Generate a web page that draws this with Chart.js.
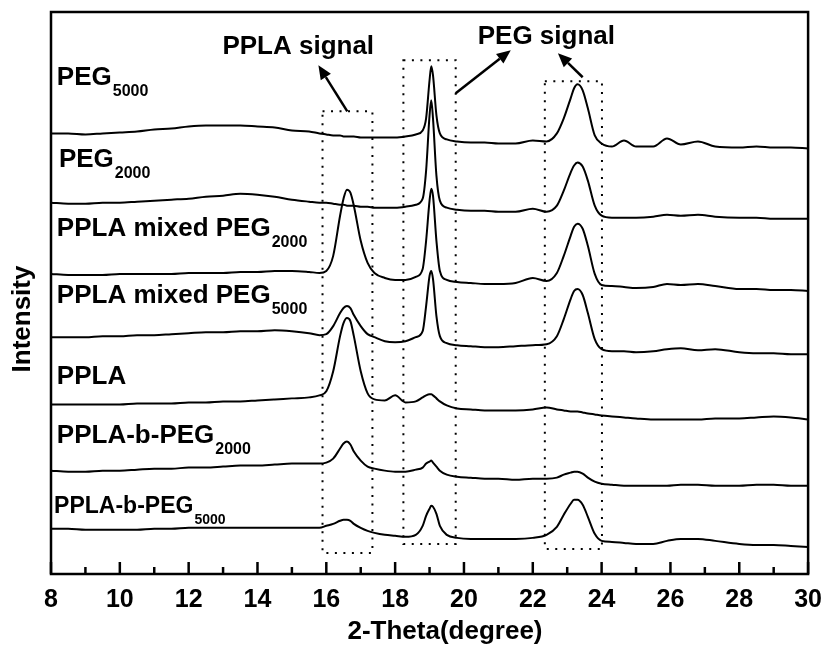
<!DOCTYPE html>
<html lang="en">
<head>
<meta charset="UTF-8">
<title>XRD patterns</title>
<script src="https://cdn.jsdelivr.net/npm/chart.js"></script>
<style>
  body { margin: 0; background: #fff; }
  .chart-box { position: relative; width: 825px; height: 648px; }
</style>
</head>
<body>
<div class="chart-box">
  <canvas id="xrdChart"></canvas>
</div>
<script>
// 2-theta positions (degree) shared by all traces
const twoTheta = [8, 8.5, 9, 9.5, 10, 10.5, 11, 11.5, 12, 12.5, 13, 13.5, 14, 14.5, 15, 15.5, 15.8, 16.0, 16.2, 16.4, 16.5, 16.6, 16.7, 16.8, 17.0, 17.2, 17.4, 17.7, 18.0, 18.3, 18.6, 18.8, 18.9, 19.0, 19.05, 19.1, 19.2, 19.3, 19.5, 19.8, 20.2, 20.6, 21.0, 21.5, 22.0, 22.4, 22.7, 22.9, 23.1, 23.2, 23.3, 23.45, 23.6, 23.8, 24.0, 24.3, 24.65, 25.0, 25.5, 25.9, 26.3, 26.8, 27.3, 28.0, 28.5, 29.0, 29.5, 30];

// stacked intensities (a.u., offset per trace)
const peg5000 = [439,439,438,439,440,441,443,444,446,447,447,447,446,445,442,441,439,438,437,437,436,436,436,436,435,435,435,435,435,436,438,442,454,492,506,497,457,439,433,431,430,430,429,429,432,431,439,454,474,484,488,482,464,437,429,426,432,426,426,434,428,431,426,425,426,425,425,424];
const peg2000 = [370,369,369,370,370,371,372,373,374,376,377,379,378,376,373,371,370,370,369,368,368,367,367,367,366,366,365,365,365,366,368,374,402,457,472,454,397,372,365,363,362,362,361,361,364,361,367,382,400,407,410,406,392,367,357,355,355,355,356,358,357,358,356,355,355,354,354,354];
const mixed2000 = [299,298,298,298,299,299,299,299,300,300,300,301,301,302,302,301,300,302,317,357,374,383,380,367,332,310,300,295,293,293,296,304,332,372,384,377,332,302,293,291,290,289,289,290,295,292,300,317,337,346,349,344,327,299,288,287,286,285,286,289,288,289,287,284,284,283,283,282];
const mixed5000 = [236,236,236,237,237,238,238,239,240,241,241,242,242,243,242,240,238,239,247,260,265,267,265,258,247,239,236,232,231,232,236,242,267,297,302,294,257,237,230,228,227,226,226,227,228,229,237,254,274,282,284,278,260,234,224,222,222,221,222,224,225,223,224,221,220,220,219,219];
const ppla = [169,169,169,169,169,170,170,170,171,171,172,172,173,174,175,176,178,182,202,237,250,255,252,237,202,180,174,173,178,171,172,176,178,179,179,178,175,172,168,165,164,163,163,163,164,166,164,163,162,162,162,161,160,159,158,157,156,155,154,154,154,154,155,155,156,157,156,154];
const block2000 = [103,102,102,103,103,104,105,105,106,106,107,108,108,109,110,110,110,111,115,125,130,132,129,122,113,107,105,103,102,102,104,106,110,112,113,111,107,103,99,97,96,95,95,94,95,95,96,99,101,102,102,100,96,92,90,89,88,88,88,88,89,89,88,88,89,89,88,88];
const block5000 = [45,45,44,44,44,44,45,45,46,46,46,46,46,46,46,46,46,48,50,53,54,54,53,50,46,43,41,39,38,37,39,48,58,65,68,67,60,48,39,36,35,35,35,35,36,39,47,59,70,74,74,69,57,40,33,32,31,30,30,33,35,35,33,30,29,29,28,27];

const seriesNames = ['PEG', 'PEG', 'PPLA mixed PEG', 'PPLA mixed PEG', 'PPLA', 'PPLA-b-PEG', 'PPLA-b-PEG'];
const seriesSubs = ['5000', '2000', '2000', '5000', '', '2000', '5000'];
const seriesData = [peg5000, peg2000, mixed2000, mixed5000, ppla, block2000, block5000];

// where each trace label sits (degree, intensity)
const labelPos = [[8.17, 487], [8.23, 406], [8.17, 337], [8.17, 270], [8.17, 189], [8.17, 131], [8.09, 61]];

// dotted boxes: [x0, x1, y0, y1]
const boxes = [[15.89, 17.34, 21, 461], [18.24, 19.76, 30, 512], [22.35, 24.01, 25, 491]];
// arrows: [tailX, tailY, headX, headY]
const arrows = [[16.61, 461, 15.77, 507], [19.76, 479, 21.36, 522], [23.45, 495, 22.73, 519]];

const FONT = 'Arial, "Liberation Sans", sans-serif';

const decor = {
    id: 'decor',
    afterDraw(chart) {
        const ctx = chart.ctx;
        const a = chart.chartArea;
        const xs = chart.scales.x, ys = chart.scales.y;
        const px = v => xs.getPixelForValue(v);
        const py = v => ys.getPixelForValue(v);
        ctx.save();
        ctx.fillStyle = '#000';
        ctx.strokeStyle = '#000';

        // frame
        ctx.lineWidth = 2.5;
        ctx.strokeRect(a.left, a.top, a.right - a.left, a.bottom - a.top);

        // inward ticks on the bottom axis
        ctx.lineWidth = 2.5;
        xs.ticks.forEach(t => {
            const x = px(t.value);
            const len = t.value % 2 === 0 ? 12 : 7;
            ctx.beginPath();
            ctx.moveTo(x, a.bottom);
            ctx.lineTo(x, a.bottom - len);
            ctx.stroke();
        });

        // dotted boxes
        ctx.lineWidth = 2;
        ctx.setLineDash([2, 6.5]);
        boxes.forEach(b => {
            ctx.strokeRect(px(b[0]), py(b[3]), px(b[1]) - px(b[0]), py(b[2]) - py(b[3]));
        });
        ctx.setLineDash([]);

        // arrows
        ctx.lineWidth = 2.5;
        arrows.forEach(r => {
            const x0 = px(r[0]), y0 = py(r[1]), x1 = px(r[2]), y1 = py(r[3]);
            const ang = Math.atan2(y1 - y0, x1 - x0);
            const hl = 14, hw = 6;
            const bx = x1 - hl * Math.cos(ang), by = y1 - hl * Math.sin(ang);
            ctx.beginPath();
            ctx.moveTo(x0, y0);
            ctx.lineTo(bx, by);
            ctx.stroke();
            ctx.beginPath();
            ctx.moveTo(x1, y1);
            ctx.lineTo(bx + hw * Math.sin(ang), by - hw * Math.cos(ang));
            ctx.lineTo(bx - hw * Math.sin(ang), by + hw * Math.cos(ang));
            ctx.closePath();
            ctx.fill();
        });

        // annotation text
        ctx.textBaseline = 'alphabetic';
        ctx.textAlign = 'left';
        ctx.font = 'bold 26px ' + FONT;
        ctx.fillText('PPLA signal', px(12.98), py(518));
        ctx.fillText('PEG signal', px(20.40), py(528));

        // trace labels with subscripts
        seriesNames.forEach((name, i) => {
            const big = i === 6 ? 23 : 26;
            const small = i === 6 ? 14 : 16;
            const x = px(labelPos[i][0]), y = py(labelPos[i][1]);
            ctx.font = 'bold ' + big + 'px ' + FONT;
            ctx.fillText(name, x, y);
            const w = ctx.measureText(name).width;
            if (seriesSubs[i]) {
                ctx.font = 'bold ' + small + 'px ' + FONT;
                ctx.fillText(seriesSubs[i], x + w + 1, y + 11);
            }
        });

        // axis titles
        ctx.font = 'bold 26px ' + FONT;
        ctx.textAlign = 'center';
        ctx.textBaseline = 'middle';
        ctx.fillText('2-Theta(degree)', 445, 632);
        ctx.translate(23, 319);
        ctx.rotate(-Math.PI / 2);
        ctx.fillText('Intensity', 0, 0);
        ctx.restore();
    }
};

document.addEventListener('DOMContentLoaded', function () {
    const ctx = document.getElementById('xrdChart').getContext('2d');
    new Chart(ctx, {
        type: 'line',
        data: {
            datasets: seriesData.map((arr, i) => ({
                label: seriesNames[i] + seriesSubs[i],
                data: twoTheta.map((x, j) => ({ x: x, y: arr[j] })),
                borderColor: '#000',
                borderWidth: 2,
                pointRadius: 0,
                fill: false,
                cubicInterpolationMode: 'monotone'
            }))
        },
        options: {
            responsive: true,
            maintainAspectRatio: false,
            animation: false,
            layout: { padding: { left: 51, right: 11, top: 12, bottom: 30 } },
            plugins: { legend: { display: false }, tooltip: { enabled: false } },
            scales: {
                x: {
                    type: 'linear',
                    min: 8,
                    max: 30,
                    grid: { display: false },
                    border: { display: false },
                    ticks: {
                        stepSize: 1,
                        autoSkip: false,
                        maxRotation: 0,
                        padding: 3,
                        color: '#000',
                        font: { family: FONT, size: 25, weight: 'bold' },
                        callback: v => (v % 2 === 0 ? String(v) : '')
                    }
                },
                y: {
                    display: false,
                    min: 0,
                    max: 560
                }
            }
        },
        plugins: [decor]
    });
});
</script>
</body>
</html>
